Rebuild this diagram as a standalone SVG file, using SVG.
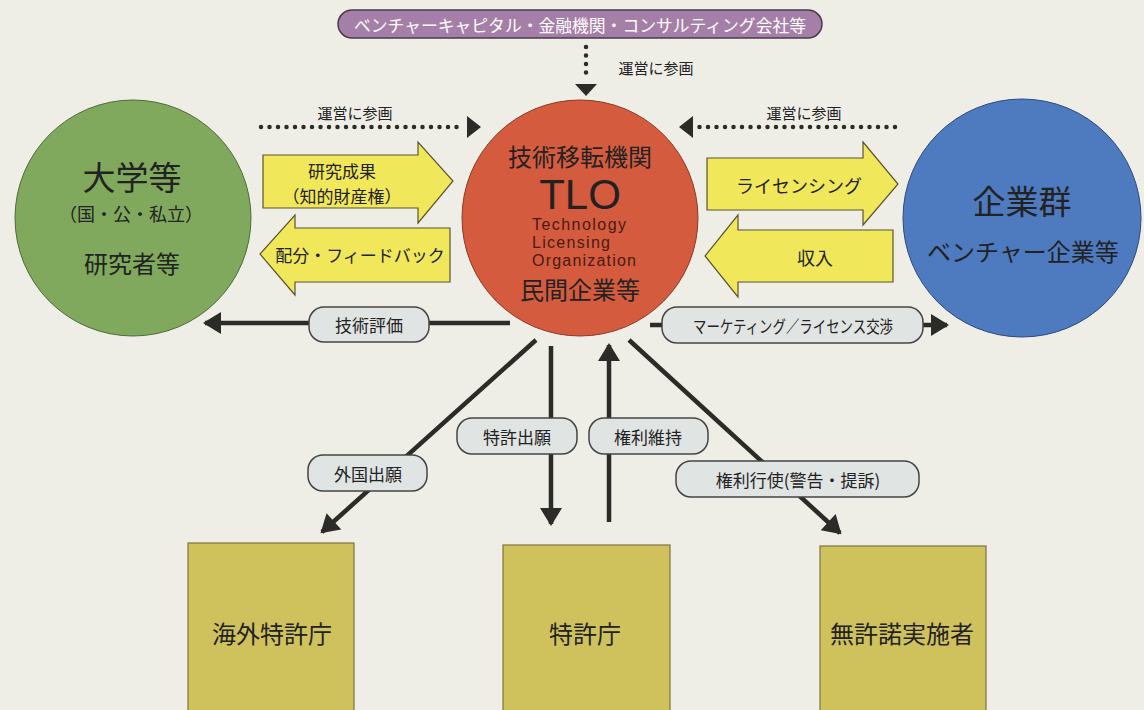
<svg xmlns="http://www.w3.org/2000/svg" width="1144" height="710" viewBox="0 0 1144 710">
<defs>
<style>
text{font-family:"Noto Sans CJK JP","Noto Sans",sans-serif;fill:#222;text-anchor:middle;dominant-baseline:central}
.lat{font-family:"Liberation Sans",Arial,sans-serif}
.pill{fill:#e0e4e3;stroke:#444;stroke-width:1.5}
.yarrow{fill:#f1e75a;stroke:#5a5530;stroke-width:1.2}
.box{fill:#cfc15c;stroke:#7d7440;stroke-width:1.2}
.ln{stroke:#2b2b28;stroke-width:4.5;fill:none}
.dot{stroke:#2b2b28;stroke-width:4.5;fill:none;stroke-dasharray:0 8.5;stroke-linecap:round}
.t14{font-size:15px}
.t17{font-size:17px}
.t18{font-size:18px}
</style>
<marker id="ah" markerUnits="userSpaceOnUse" markerWidth="24" markerHeight="24" viewBox="0 0 24 24" refX="18" refY="12" orient="auto">
<path d="M2,1 L20,12 L2,23 Z" fill="#2b2b28"/>
</marker>
</defs>
<rect width="1144" height="710" fill="#efeee6"/>

<g id="connectors">
<line class="dot" x1="586" y1="47" x2="586" y2="80"/>
<path d="M575,84 L597,84 L586,96 Z" fill="#2b2b28"/>
<line class="dot" x1="261" y1="127" x2="462" y2="127"/>
<path d="M467,116 L481,127 L467,138 Z" fill="#2b2b28"/>
<line class="dot" x1="895" y1="127" x2="698" y2="127"/>
<path d="M693,116 L679,127 L693,138 Z" fill="#2b2b28"/>

<path class="yarrow" d="M263,155 H418 V142 L453,181 L418,223 V208 H263 Z"/>
<path class="yarrow" d="M450,228 H295 V215 L260,254 L295,295 V282 H450 Z"/>
<path class="yarrow" d="M707,158 H863 V142 L898,184 L863,225 V210 H707 Z"/>
<path class="yarrow" d="M893,230 H738 V215 L705,256 L738,297 V282 H893 Z"/>

<line class="ln" x1="510" y1="323" x2="205" y2="323" marker-end="url(#ah)"/>
<line class="ln" x1="650" y1="325" x2="947" y2="325" marker-end="url(#ah)"/>
<line class="ln" x1="536" y1="340" x2="322" y2="532" marker-end="url(#ah)"/>
<line class="ln" x1="551" y1="346" x2="551" y2="524" marker-end="url(#ah)"/>
<line class="ln" x1="609" y1="522" x2="609" y2="345" marker-end="url(#ah)"/>
<line class="ln" x1="629" y1="340" x2="840" y2="533" marker-end="url(#ah)"/>

<text class="t14" x="656" y="67">運営に参画</text>
<text class="t14" x="355" y="112">運営に参画</text>
<text class="t14" x="804" y="112">運営に参画</text>
<text class="t17"><tspan x="342" y="169.5">研究成果</tspan><tspan x="342" y="195">（知的財産権）</tspan></text>
<text class="t17" x="360" y="254">配分・フィードバック</text>
<text class="t18" x="799" y="185">ライセンシング</text>
<text class="t18" x="815" y="257">収入</text>

<rect class="pill" x="309" y="307" width="120" height="35" rx="15"/>
<text class="t17" x="369" y="324">技術評価</text>
<rect class="pill" x="662" y="307" width="261" height="36" rx="15"/>
<text class="t17" x="793" y="325" textLength="200" lengthAdjust="spacingAndGlyphs">マーケティング／ライセンス交渉</text>
<rect class="pill" x="308" y="455" width="119" height="36" rx="15"/>
<text class="t17" x="368" y="473">外国出願</text>
<rect class="pill" x="457" y="418" width="120" height="36" rx="15"/>
<text class="t17" x="517" y="436">特許出願</text>
<rect class="pill" x="589" y="418" width="119" height="36" rx="15"/>
<text class="t17" x="648" y="436">権利維持</text>
<rect class="pill" x="676" y="461" width="243" height="36" rx="15"/>
<text class="t17" x="798" y="479">権利行使(警告・提訴)</text>
</g>

<g id="vc">
<rect x="338" y="10" width="484" height="28" rx="14" fill="#a67fa9" stroke="#4a3a4a" stroke-width="1.5"/>
<text x="580" y="24" style="font-size:17px;fill:#fff" textLength="452" lengthAdjust="spacingAndGlyphs">ベンチャーキャピタル・金融機関・コンサルティング会社等</text>
</g>

<g id="university">
<circle cx="133" cy="218" r="118" fill="#80a95d" stroke="#4f6a3a" stroke-width="1"/>
<text x="132" y="176" style="font-size:33px">大学等</text>
<text x="131" y="213" style="font-size:18px">（国・公・私立）</text>
<text x="132" y="262" style="font-size:24px">研究者等</text>
</g>

<g id="tlo">
<circle cx="580" cy="218" r="118" fill="#d45b3e" stroke="#8a3a28" stroke-width="1"/>
<text x="580" y="155" style="font-size:24px">技術移転機関</text>
<text class="lat" x="580" y="194" style="font-size:42px">TLO</text>
<text class="lat" style="font-size:16px;text-anchor:start;fill:#4a1a12"><tspan x="532" y="224" textLength="94">Technology</tspan><tspan x="532" y="242" textLength="78">Licensing</tspan><tspan x="532" y="260" textLength="104">Organization</tspan></text>
<text x="580" y="288" style="font-size:24px">民間企業等</text>
</g>

<g id="companies">
<circle cx="1022" cy="218" r="119" fill="#4e7abf" stroke="#2e4a78" stroke-width="1"/>
<text x="1022" y="200" style="font-size:33px">企業群</text>
<text x="1023" y="250" style="font-size:24px">ベンチャー企業等</text>
</g>

<g id="foreign-office">
<rect class="box" x="188" y="543" width="166" height="172"/>
<text x="272" y="632" style="font-size:24px">海外特許庁</text>
</g>
<g id="patent-office">
<rect class="box" x="503" y="545" width="167" height="170"/>
<text x="585" y="632" style="font-size:24px">特許庁</text>
</g>
<g id="infringer">
<rect class="box" x="820" y="546" width="166" height="169"/>
<text x="902" y="632" style="font-size:24px">無許諾実施者</text>
</g>
</svg>
